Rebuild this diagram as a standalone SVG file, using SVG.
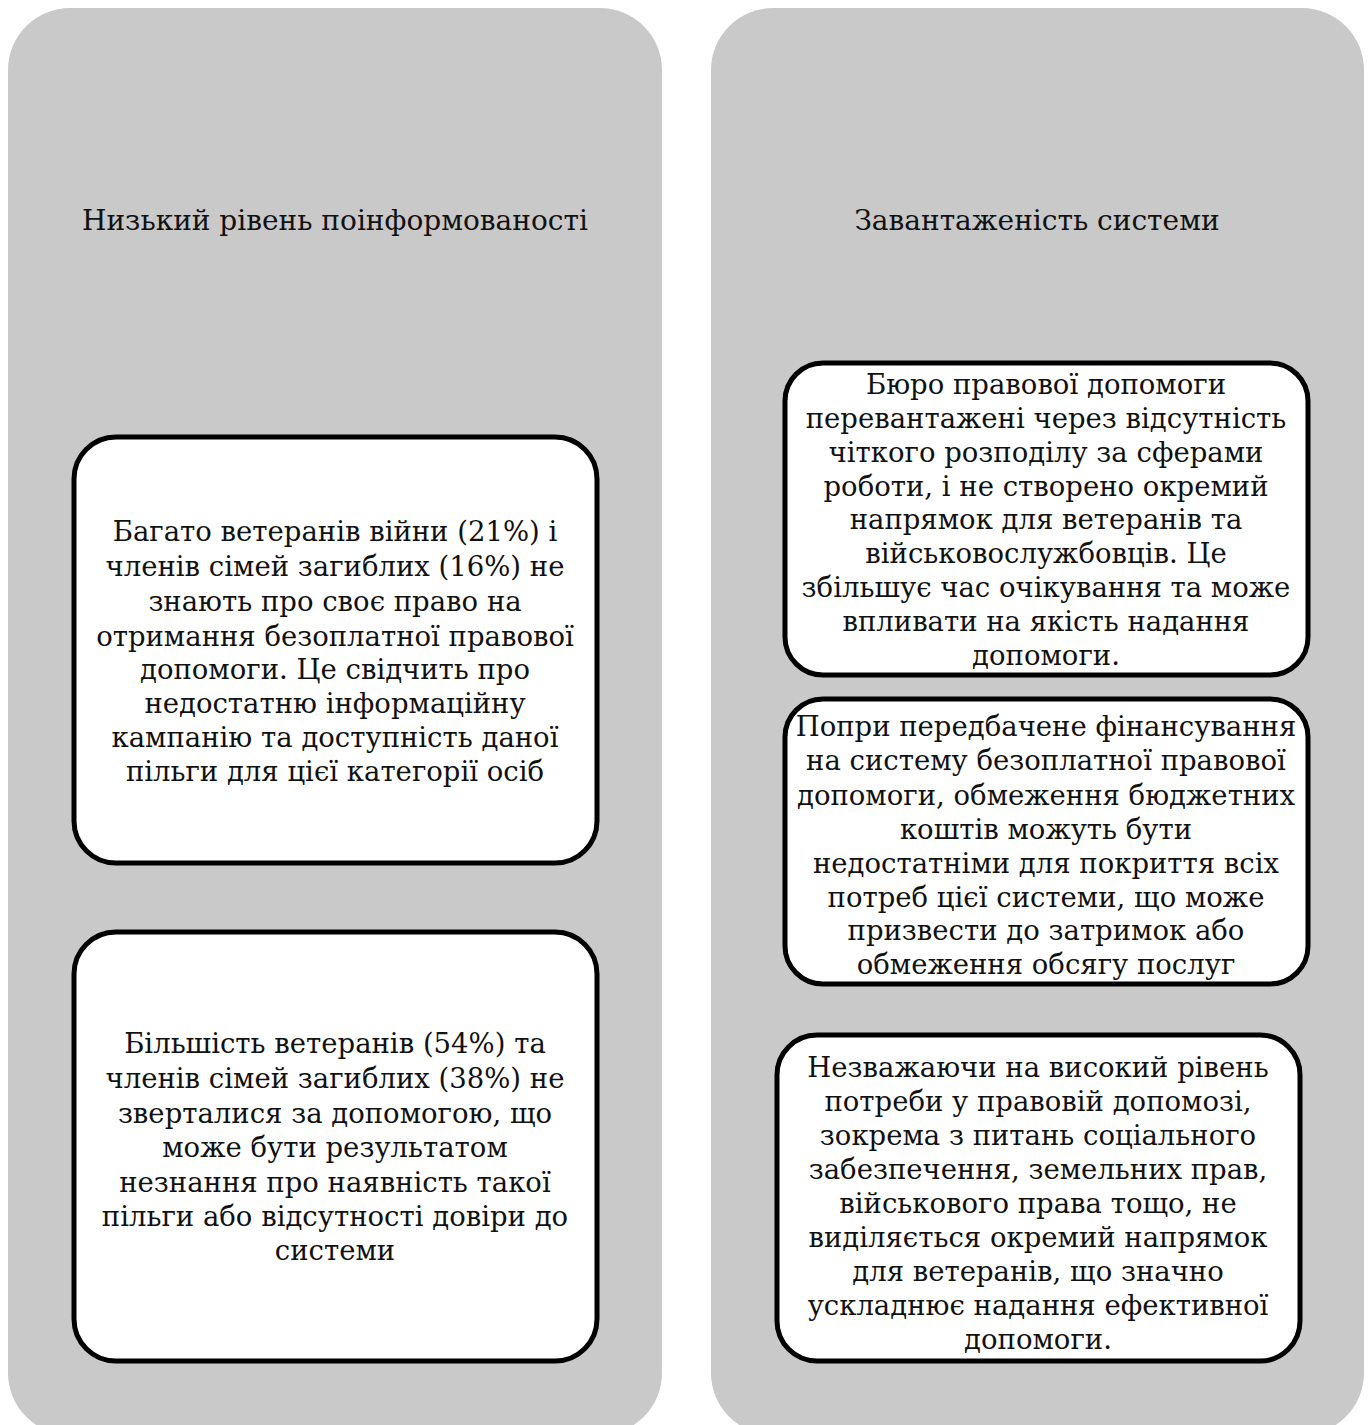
<svg xmlns="http://www.w3.org/2000/svg" width="1368" height="1425" viewBox="0 0 1368 1425">
<style>
.panel{fill:#c9c9c9;stroke:none}
.box{fill:#ffffff;stroke:#000000;stroke-width:5}
text{font-family:"DejaVu Serif","Liberation Serif",serif;font-size:27.5px;fill:#111111;text-anchor:middle}
.title{font-size:28px}
</style>
<rect width="1368" height="1425" fill="#ffffff"/>
<g id="panel-left">
<rect class="panel" x="8" y="8" width="654" height="1427" rx="62" ry="62"/>
<text class="title" x="335" y="230">Низький рівень поінформованості</text>
</g>
<g id="panel-right">
<rect class="panel" x="711" y="8" width="653" height="1427" rx="62" ry="62"/>
<text class="title" x="1037" y="230">Завантаженість системи</text>
</g>
<g id="box-left-1">
<rect class="box" x="74" y="437" width="523" height="426" rx="42" ry="42"/>
<text x="335" y="541">Багато ветеранів війни (21%) і</text>
<text x="335" y="576">членів сімей загиблих (16%) не</text>
<text x="335" y="611">знають про своє право на</text>
<text x="335" y="646">отримання безоплатної правової</text>
<text x="335" y="679">допомоги. Це свідчить про</text>
<text x="335" y="713">недостатню інформаційну</text>
<text x="335" y="747">кампанію та доступність даної</text>
<text x="335" y="781">пільги для цієї категорії осіб</text>
</g>
<g id="box-left-2">
<rect class="box" x="74" y="932" width="523" height="429" rx="42" ry="42"/>
<text x="335" y="1053">Більшість ветеранів (54%) та</text>
<text x="335" y="1088">членів сімей загиблих (38%) не</text>
<text x="335" y="1123">зверталися за допомогою, що</text>
<text x="335" y="1157">може бути результатом</text>
<text x="335" y="1192">незнання про наявність такої</text>
<text x="335" y="1226">пільги або відсутності довіри до</text>
<text x="335" y="1260">системи</text>
</g>
<g id="box-right-1">
<rect class="box" x="785" y="363" width="523" height="312" rx="38" ry="38"/>
<text x="1046" y="394">Бюро правової допомоги</text>
<text x="1046" y="428">перевантажені через відсутність</text>
<text x="1046" y="462">чіткого розподілу за сферами</text>
<text x="1046" y="496">роботи, і не створено окремий</text>
<text x="1046" y="529">напрямок для ветеранів та</text>
<text x="1046" y="563">військовослужбовців. Це</text>
<text x="1046" y="597">збільшує час очікування та може</text>
<text x="1046" y="631">впливати на якість надання</text>
<text x="1046" y="665">допомоги.</text>
</g>
<g id="box-right-2">
<rect class="box" x="785" y="699" width="523" height="285" rx="38" ry="38"/>
<text x="1046" y="736">Попри передбачене фінансування</text>
<text x="1046" y="770">на систему безоплатної правової</text>
<text x="1046" y="805">допомоги, обмеження бюджетних</text>
<text x="1046" y="839">коштів можуть бути</text>
<text x="1046" y="873">недостатніми для покриття всіх</text>
<text x="1046" y="907">потреб цієї системи, що може</text>
<text x="1046" y="940">призвести до затримок або</text>
<text x="1046" y="974">обмеження обсягу послуг</text>
</g>
<g id="box-right-3">
<rect class="box" x="777" y="1035" width="523" height="326" rx="40" ry="40"/>
<text x="1038" y="1077">Незважаючи на високий рівень</text>
<text x="1038" y="1111">потреби у правовій допомозі,</text>
<text x="1038" y="1145">зокрема з питань соціального</text>
<text x="1038" y="1179">забезпечення, земельних прав,</text>
<text x="1038" y="1213">військового права тощо, не</text>
<text x="1038" y="1247">виділяється окремий напрямок</text>
<text x="1038" y="1281">для ветеранів, що значно</text>
<text x="1038" y="1315">ускладнює надання ефективної</text>
<text x="1038" y="1349">допомоги.</text>
</g>
<g id="connectors"/>
</svg>
